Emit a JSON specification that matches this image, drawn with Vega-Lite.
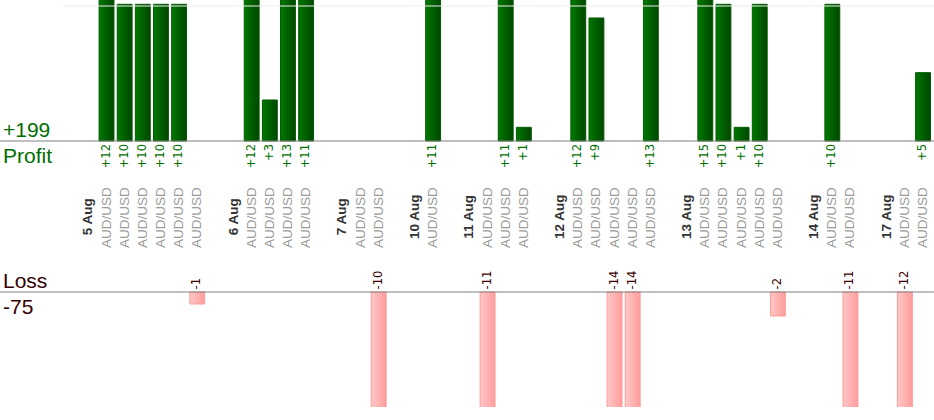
{
  "$schema": "https://vega.github.io/schema/vega-lite/v6.json",
  "width": 934,
  "height": 407,
  "autosize": {"type": "none"},
  "padding": {"top": 0, "left": 0, "right": 0, "bottom": 13},
  "background": "white",
  "config": {"view": {"stroke": null}, "font": "Liberation Sans"},
  "data": {
    "values": [
      {"slot": 0},
      {"slot": 1, "date": "5 Aug"},
      {"slot": 2, "pair": "AUD/USD", "pl": 12},
      {"slot": 3, "pair": "AUD/USD", "pl": 10},
      {"slot": 4, "pair": "AUD/USD", "pl": 10},
      {"slot": 5, "pair": "AUD/USD", "pl": 10},
      {"slot": 6, "pair": "AUD/USD", "pl": 10},
      {"slot": 7, "pair": "AUD/USD", "pl": -1},
      {"slot": 8},
      {"slot": 9, "date": "6 Aug"},
      {"slot": 10, "pair": "AUD/USD", "pl": 12},
      {"slot": 11, "pair": "AUD/USD", "pl": 3},
      {"slot": 12, "pair": "AUD/USD", "pl": 13},
      {"slot": 13, "pair": "AUD/USD", "pl": 11},
      {"slot": 14},
      {"slot": 15, "date": "7 Aug"},
      {"slot": 16, "pair": "AUD/USD"},
      {"slot": 17, "pair": "AUD/USD", "pl": -10},
      {"slot": 18},
      {"slot": 19, "date": "10 Aug"},
      {"slot": 20, "pair": "AUD/USD", "pl": 11},
      {"slot": 21},
      {"slot": 22, "date": "11 Aug"},
      {"slot": 23, "pair": "AUD/USD", "pl": -11},
      {"slot": 24, "pair": "AUD/USD", "pl": 11},
      {"slot": 25, "pair": "AUD/USD", "pl": 1},
      {"slot": 26},
      {"slot": 27, "date": "12 Aug"},
      {"slot": 28, "pair": "AUD/USD", "pl": 12},
      {"slot": 29, "pair": "AUD/USD", "pl": 9},
      {"slot": 30, "pair": "AUD/USD", "pl": -14},
      {"slot": 31, "pair": "AUD/USD", "pl": -14},
      {"slot": 32, "pair": "AUD/USD", "pl": 13},
      {"slot": 33},
      {"slot": 34, "date": "13 Aug"},
      {"slot": 35, "pair": "AUD/USD", "pl": 15},
      {"slot": 36, "pair": "AUD/USD", "pl": 10},
      {"slot": 37, "pair": "AUD/USD", "pl": 1},
      {"slot": 38, "pair": "AUD/USD", "pl": 10},
      {"slot": 39, "pair": "AUD/USD", "pl": -2},
      {"slot": 40},
      {"slot": 41, "date": "14 Aug"},
      {"slot": 42, "pair": "AUD/USD", "pl": 10},
      {"slot": 43, "pair": "AUD/USD", "pl": -11},
      {"slot": 44},
      {"slot": 45, "date": "17 Aug"},
      {"slot": 46, "pair": "AUD/USD", "pl": -12},
      {"slot": 47, "pair": "AUD/USD", "pl": 5}
    ]
  },
  "layer": [
    {
      "encoding": {
        "x": {
          "field": "slot", "type": "ordinal", "axis": null,
          "scale": {
            "domain": [-2,-1,0,1,2,3,4,5,6,7,8,9,10,11,12,13,14,15,16,17,18,19,20,21,22,23,24,25,26,27,28,29,30,31,32,33,34,35,36,37,38,39,40,41,42,43,44,45,46,47],
            "paddingInner": 0.18, "paddingOuter": 0.827, "align": 0.883
          }
        }
      },
      "layer": [
        {
          "transform": [{"filter": "datum.pl > 0"}],
          "mark": {
            "type": "bar", "clip": true, "stroke": "#005a00", "strokeWidth": 1,
            "fill": {"gradient": "linear", "x1": 0, "y1": 0, "x2": 1, "y2": 0,
              "stops": [{"offset": 0, "color": "#007800"}, {"offset": 1, "color": "#004600"}]}
          },
          "encoding": {
            "y": {"field": "pl", "type": "quantitative", "axis": null,
              "scale": {"domain": [-19.46, 10.315], "nice": false, "zero": false}},
            "y2": {"datum": 0}
          }
        },
        {
          "transform": [{"filter": "datum.pl > 0"}],
          "mark": {"type": "text", "angle": 270, "align": "right", "baseline": "middle",
            "dx": -3, "font": "DejaVu Sans", "fontSize": 11.5, "color": "#007000"},
          "encoding": {
            "y": {"datum": 0, "type": "quantitative", "axis": null,
              "scale": {"domain": [-19.46, 10.315], "nice": false, "zero": false}},
            "text": {"field": "pl", "type": "quantitative", "format": "+d"}
          }
        },
        {
          "transform": [{"filter": "datum.date"}],
          "mark": {"type": "text", "angle": 270, "align": "center", "baseline": "middle",
            "fontSize": 13.5, "fontWeight": "bold", "color": "#333333"},
          "encoding": {
            "y": {"datum": -5.55, "type": "quantitative", "axis": null,
              "scale": {"domain": [-19.46, 10.315], "nice": false, "zero": false}},
            "text": {"field": "date", "type": "nominal"}
          }
        },
        {
          "transform": [{"filter": "datum.pair"}],
          "mark": {"type": "text", "angle": 270, "align": "center", "baseline": "middle",
            "fontSize": 13.5, "color": "#9a9a9a"},
          "encoding": {
            "y": {"datum": -5.6, "type": "quantitative", "axis": null,
              "scale": {"domain": [-19.46, 10.315], "nice": false, "zero": false}},
            "text": {"field": "pair", "type": "nominal"}
          }
        },
        {
          "transform": [{"filter": "datum.pl < 0"}],
          "mark": {
            "type": "bar", "clip": true, "stroke": "#ff9a9a", "strokeWidth": 1,
            "fill": {"gradient": "linear", "x1": 0, "y1": 0, "x2": 1, "y2": 0,
              "stops": [{"offset": 0, "color": "#ffc8c8"}, {"offset": 1, "color": "#ff9c9c"}]}
          },
          "encoding": {
            "y": {"field": "pl", "type": "quantitative", "axis": null,
              "scale": {"domain": [-9.583, 24.333], "nice": false, "zero": false}},
            "y2": {"datum": 0}
          }
        },
        {
          "transform": [{"filter": "datum.pl < 0"}],
          "mark": {"type": "text", "angle": 270, "align": "left", "baseline": "middle",
            "dx": 2.5, "font": "DejaVu Sans", "fontSize": 11.5, "color": "#3a0000"},
          "encoding": {
            "y": {"datum": 0, "type": "quantitative", "axis": null,
              "scale": {"domain": [-9.583, 24.333], "nice": false, "zero": false}},
            "text": {"field": "pl", "type": "nominal"}
          }
        }
      ],
      "resolve": {"scale": {"y": "independent"}}
    },
    {
      "transform": [{"filter": "datum.slot == 0"}],
      "mark": {"type": "rule", "color": "#ececec", "strokeWidth": 1},
      "encoding": {
        "x": {"datum": 0.0675, "type": "quantitative", "axis": null, "scale": {"domain": [0, 1], "nice": false}},
        "x2": {"datum": 1},
        "y": {"datum": 9.876, "type": "quantitative", "axis": null,
          "scale": {"domain": [-19.46, 10.315], "nice": false, "zero": false}}
      }
    },
    {
      "transform": [{"filter": "datum.slot == 0"}],
      "mark": {"type": "rule", "color": "#808080", "strokeWidth": 1},
      "encoding": {
        "y": {"datum": 0, "type": "quantitative", "axis": null,
          "scale": {"domain": [-19.46, 10.315], "nice": false, "zero": false}}
      }
    },
    {
      "transform": [{"filter": "datum.slot == 0"}],
      "mark": {"type": "rule", "color": "#808080", "strokeWidth": 1},
      "encoding": {
        "y": {"datum": 0, "type": "quantitative", "axis": null,
          "scale": {"domain": [-9.583, 24.333], "nice": false, "zero": false}}
      }
    },
    {
      "transform": [
        {"filter": "datum.pl > 0"},
        {"aggregate": [{"op": "sum", "field": "pl", "as": "total"}]}
      ],
      "mark": {"type": "text", "align": "left", "baseline": "alphabetic", "dx": 3, "dy": -4,
        "fontSize": 21, "color": "#006e00"},
      "encoding": {
        "x": {"datum": 0, "type": "quantitative", "axis": null, "scale": {"domain": [0, 1], "nice": false}},
        "y": {"datum": 0, "type": "quantitative", "axis": null,
          "scale": {"domain": [-19.46, 10.315], "nice": false, "zero": false}},
        "text": {"field": "total", "type": "quantitative", "format": "+d"}
      }
    },
    {
      "transform": [{"filter": "datum.slot == 0"}],
      "mark": {"type": "text", "text": "Profit", "align": "left", "baseline": "alphabetic", "dx": 3, "dy": 22,
        "fontSize": 21, "color": "#006e00"},
      "encoding": {
        "x": {"datum": 0, "type": "quantitative", "axis": null, "scale": {"domain": [0, 1], "nice": false}},
        "y": {"datum": 0, "type": "quantitative", "axis": null,
          "scale": {"domain": [-19.46, 10.315], "nice": false, "zero": false}}
      }
    },
    {
      "transform": [{"filter": "datum.slot == 0"}],
      "mark": {"type": "text", "text": "Loss", "align": "left", "baseline": "alphabetic", "dx": 3, "dy": -4,
        "fontSize": 21, "color": "#330000"},
      "encoding": {
        "x": {"datum": 0, "type": "quantitative", "axis": null, "scale": {"domain": [0, 1], "nice": false}},
        "y": {"datum": 0, "type": "quantitative", "axis": null,
          "scale": {"domain": [-9.583, 24.333], "nice": false, "zero": false}}
      }
    },
    {
      "transform": [
        {"filter": "datum.pl < 0"},
        {"aggregate": [{"op": "sum", "field": "pl", "as": "total"}]}
      ],
      "mark": {"type": "text", "align": "left", "baseline": "alphabetic", "dx": 3, "dy": 22,
        "fontSize": 21, "color": "#330000"},
      "encoding": {
        "x": {"datum": 0, "type": "quantitative", "axis": null, "scale": {"domain": [0, 1], "nice": false}},
        "y": {"datum": 0, "type": "quantitative", "axis": null,
          "scale": {"domain": [-9.583, 24.333], "nice": false, "zero": false}},
        "text": {"field": "total", "type": "nominal"}
      }
    }
  ],
  "resolve": {"scale": {"x": "independent", "y": "independent"}}
}
